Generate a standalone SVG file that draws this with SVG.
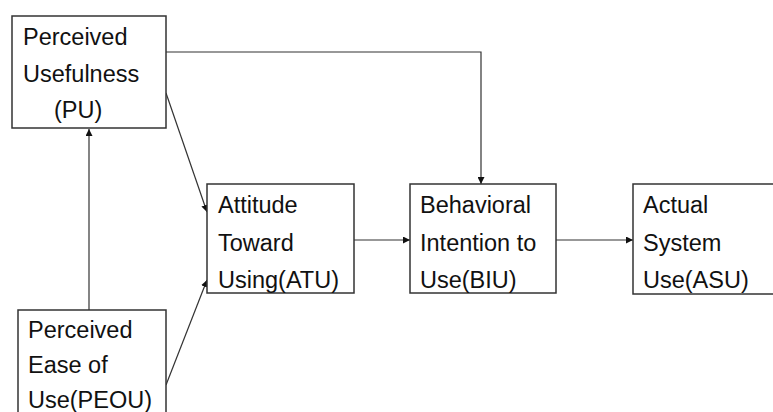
<svg xmlns="http://www.w3.org/2000/svg" width="773" height="412" viewBox="0 0 773 412">
<style>
.box{fill:#fff;stroke:#333;stroke-width:1.5}
.lbl{font-family:"Liberation Sans",Arial,sans-serif;font-size:23.5px;fill:#111}
.con{fill:none;stroke:#333;stroke-width:1.2}
</style>
<defs>
<marker id="ah" viewBox="0 0 10 10" refX="10" refY="5" markerWidth="7" markerHeight="7" markerUnits="userSpaceOnUse" orient="auto">
<path d="M0,0 L10,5 L0,10 z" fill="#111"/>
</marker>
</defs>
<rect width="773" height="412" fill="#fff"/>
<g id="connectors">
<path class="con" d="M166,52 H481 V184" marker-end="url(#ah)"/>
<path class="con" d="M89,310 V129" marker-end="url(#ah)"/>
<path class="con" d="M166,93 L207,212" marker-end="url(#ah)"/>
<path class="con" d="M166,385 L207,280" marker-end="url(#ah)"/>
<path class="con" d="M354,240 H410" marker-end="url(#ah)"/>
<path class="con" d="M556,240 H633" marker-end="url(#ah)"/>
</g>
<g id="PU">
<rect class="box" x="12" y="16" width="154" height="112"/>
<text class="lbl" x="23" y="45">Perceived</text>
<text class="lbl" x="23" y="82">Usefulness</text>
<text class="lbl" x="54" y="118">(PU)</text>
</g>
<g id="PEOU">
<rect class="box" x="18" y="310" width="148" height="110"/>
<text class="lbl" x="28" y="338">Perceived</text>
<text class="lbl" x="28" y="373">Ease of</text>
<text class="lbl" x="28" y="408">Use(PEOU)</text>
</g>
<g id="ATU">
<rect class="box" x="207" y="184" width="147" height="109"/>
<text class="lbl" x="218" y="213">Attitude</text>
<text class="lbl" x="218" y="251">Toward</text>
<text class="lbl" x="218" y="288">Using(ATU)</text>
</g>
<g id="BIU">
<rect class="box" x="410" y="184" width="146" height="109"/>
<text class="lbl" x="420" y="213">Behavioral</text>
<text class="lbl" x="420" y="251">Intention to</text>
<text class="lbl" x="420" y="288">Use(BIU)</text>
</g>
<g id="ASU">
<rect class="box" x="633" y="184" width="145" height="110"/>
<text class="lbl" x="643" y="213">Actual</text>
<text class="lbl" x="643" y="251">System</text>
<text class="lbl" x="643" y="288">Use(ASU)</text>
</g>
</svg>
